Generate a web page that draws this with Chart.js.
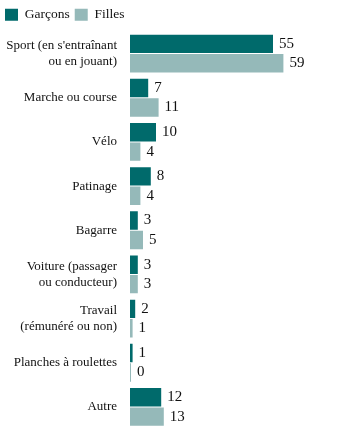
<!DOCTYPE html>
<html>
<head>
<meta charset="utf-8">
<script src="https://cdn.jsdelivr.net/npm/chart.js@4.4.1/dist/chart.umd.min.js"></script>
<style>
  html, body { margin: 0; padding: 0; background: #fff; }
  #wrap { width: 350px; height: 434px; position: relative; }
</style>
</head>
<body>
<div id="wrap"><canvas id="myChart"></canvas></div>
<script>
// categories and values
const categories = [
    ["Sport (en s'entraînant", "ou en jouant)"],
    "Marche ou course",
    "Vélo",
    "Patinage",
    "Bagarre",
    ["Voiture (passager", "ou conducteur)"],
    ["Travail", "(rémunéré ou non)"],
    "Planches à roulettes",
    "Autre"
];
const garcons = [55, 7, 10, 8, 3, 3, 2, 1, 12];
const filles = [59, 11, 4, 4, 5, 3, 1, 0, 13];

const seriesNames = ['Garçons', 'Filles'];
const darkTeal = '#006a6b';
const lightTeal = '#95b9b9';
const serif = "'Liberation Serif', 'DejaVu Serif', serif";

// draws the value next to the end of each bar
const valueLabels = {
    id: 'valueLabels',
    afterDatasetsDraw(chart) {
        const ctx = chart.ctx;
        ctx.save();
        ctx.font = '15px ' + serif;
        ctx.fillStyle = '#111';
        ctx.textBaseline = 'middle';
        ctx.textAlign = 'left';
        chart.data.datasets.forEach((ds, di) => {
            const meta = chart.getDatasetMeta(di);
            meta.data.forEach((bar, i) => {
                ctx.fillText(ds.data[i], bar.x + 6, bar.y);
            });
        });
        ctx.restore();
    }
};

const ctx = document.getElementById('myChart');

const config = {
    type: 'bar',
    data: {
        labels: categories,
        datasets: [
            {
                label: seriesNames[0],
                data: garcons,
                backgroundColor: darkTeal,
                barPercentage: 0.95,
                categoryPercentage: 0.88,
            },
            {
                label: seriesNames[1],
                data: filles,
                backgroundColor: lightTeal,
                barPercentage: 0.95,
                categoryPercentage: 0.88,
                minBarLength: 1,
            }
        ]
    },
    options: {
        indexAxis: 'y',
        responsive: true,
        maintainAspectRatio: false,
        animation: false,
        layout: { padding: { left: 0, right: 12, top: 3, bottom: 5 } },
        scales: {
            x: {
                display: false,
                min: 0,
                max: 80,
            },
            y: {
                grid: { display: false, drawTicks: false },
                border: { display: false },
                afterFit(scale) {
                    scale.width = 130;
                    scale.paddingTop = 0;
                    scale.paddingBottom = 0;
                },
                ticks: {
                    padding: 13,
                    color: '#111',
                    font: { family: serif, size: 13, lineHeight: 1.23 },
                }
            }
        },
        plugins: {
            legend: {
                position: 'top',
                align: 'start',
                labels: {
                    boxWidth: 13,
                    boxHeight: 12,
                    padding: 5,
                    color: '#111',
                    font: { family: serif, size: 13.5 },
                }
            },
            tooltip: { enabled: false }
        }
    },
    plugins: [valueLabels]
};

const chart = new Chart(ctx, config);
</script>
</body>
</html>
